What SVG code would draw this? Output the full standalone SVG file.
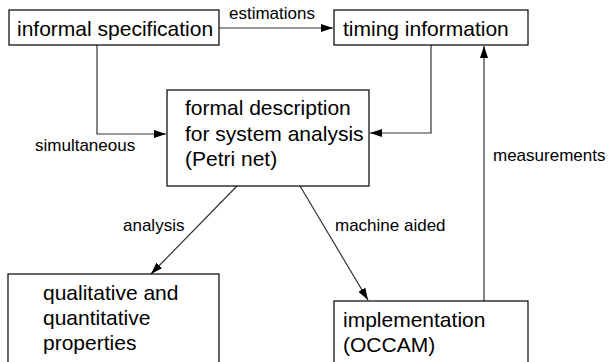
<svg xmlns="http://www.w3.org/2000/svg" width="610" height="362" viewBox="0 0 610 362">
<style>
.box{fill:#fff;stroke:#000;stroke-width:1.2}
.t{font-family:"Liberation Sans",Arial,sans-serif;font-size:21px;fill:#000}
.l{font-family:"Liberation Sans",Arial,sans-serif;font-size:17px;fill:#000}
.c{fill:none;stroke:#333;stroke-width:1.2}
</style>
<defs>
<marker id="ah" markerUnits="userSpaceOnUse" markerWidth="13" markerHeight="9" refX="12" refY="4" orient="auto">
<path d="M0,0 L12,4 L0,8 z" fill="#000"/>
</marker>
</defs>
<g id="connectors">
<line class="c" x1="219" y1="28" x2="333" y2="28" marker-end="url(#ah)"/>
<polyline class="c" points="97,45 97,134 166,134" marker-end="url(#ah)"/>
<polyline class="c" points="431,45 431,133 370,133" marker-end="url(#ah)"/>
<line class="c" x1="484" y1="301" x2="484" y2="46" marker-end="url(#ah)"/>
<line class="c" x1="237" y1="186" x2="151" y2="274" marker-end="url(#ah)"/>
<line class="c" x1="300" y1="186" x2="368" y2="300" marker-end="url(#ah)"/>
<text class="l" x="229" y="19">estimations</text>
<text class="l" x="35" y="151">simultaneous</text>
<text class="l" x="493" y="161">measurements</text>
<text class="l" x="123" y="231">analysis</text>
<text class="l" x="335" y="231">machine aided</text>
</g>
<g id="informal">
<rect class="box" x="9" y="10" width="210" height="35"/>
<text class="t" x="17" y="36">informal specification</text>
</g>
<g id="timing">
<rect class="box" x="334" y="10" width="194" height="35"/>
<text class="t" x="343" y="36">timing information</text>
</g>
<g id="formal">
<rect class="box" x="167" y="90" width="202" height="96"/>
<text class="t" x="185" y="115">formal description</text>
<text class="t" x="185" y="141">for system analysis</text>
<text class="t" x="185" y="166">(Petri net)</text>
</g>
<g id="qualitative">
<rect class="box" x="8" y="274" width="211" height="100"/>
<text class="t" x="43" y="300">qualitative and</text>
<text class="t" x="43" y="325">quantitative</text>
<text class="t" x="43" y="350">properties</text>
</g>
<g id="implementation">
<rect class="box" x="334" y="301" width="194" height="73"/>
<text class="t" x="343" y="327">implementation</text>
<text class="t" x="343" y="352">(OCCAM)</text>
</g>
</svg>
